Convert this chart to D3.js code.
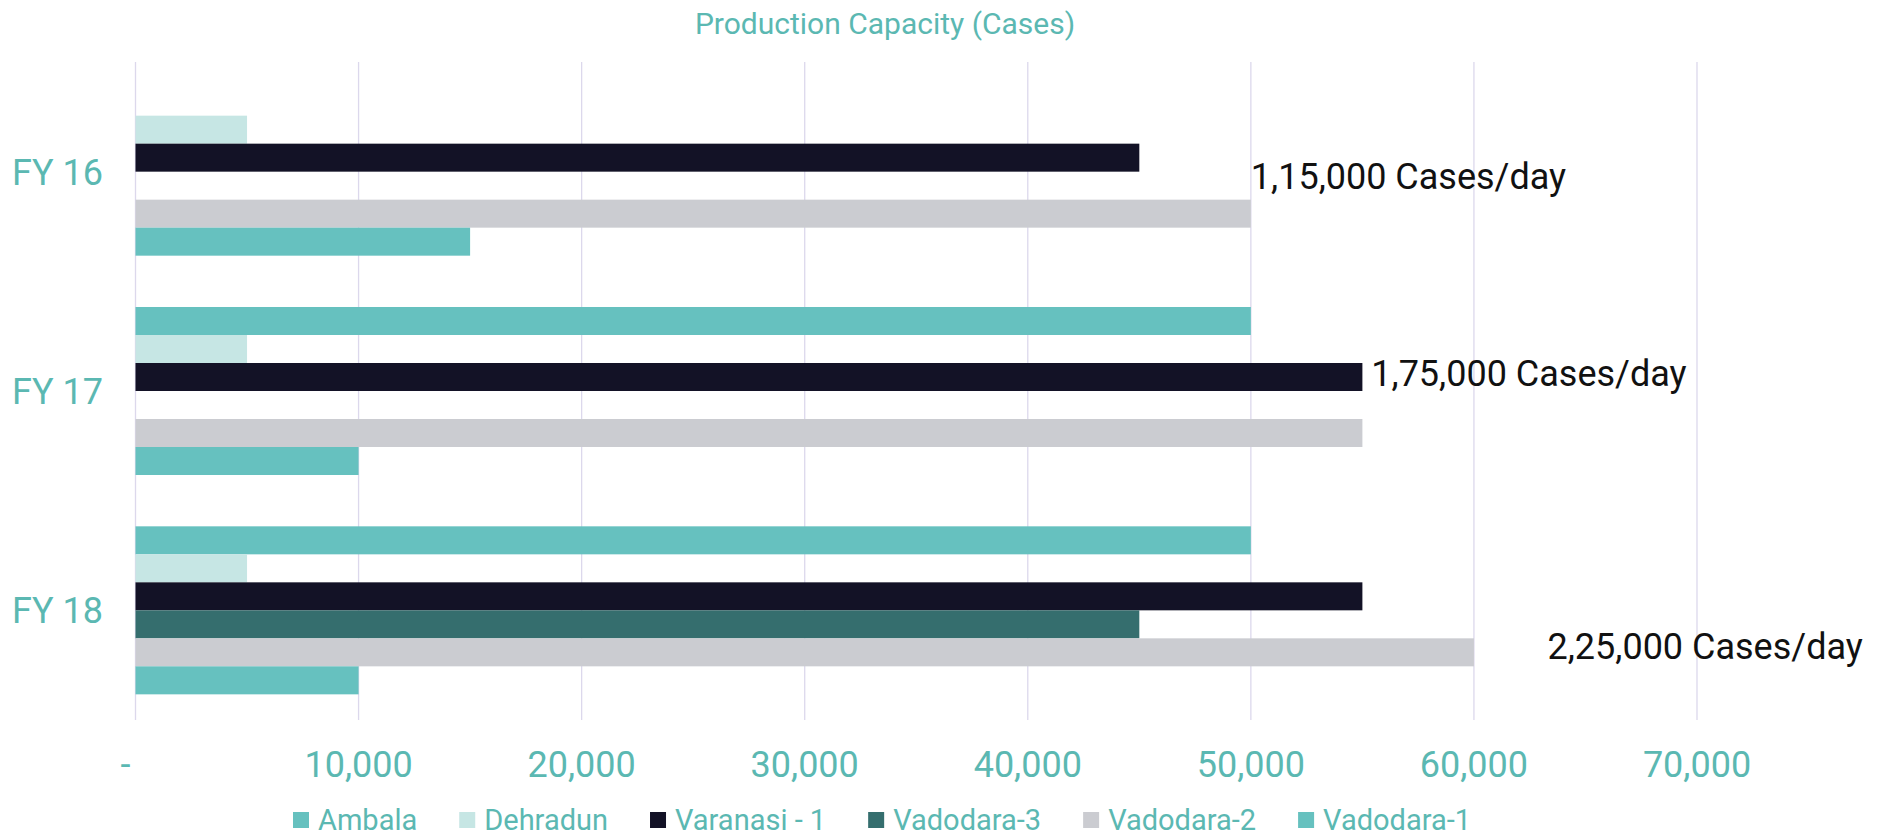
<!DOCTYPE html>
<html>
<head>
<meta charset="utf-8">
<script src="https://cdn.jsdelivr.net/npm/d3@7"></script>
<style>
  body { margin: 0; background: #fff; }
  text { font-family: Roboto, "Noto Sans", sans-serif; }
</style>
</head>
<body>
<svg id="chart" width="1881" height="837"></svg>
<script>
// data, top-to-bottom order within each year
const years = ["FY 16", "FY 17", "FY 18"];
const plants = ["Ambala", "Dehradun", "Varanasi - 1", "Vadodara-3", "Vadodara-2", "Vadodara-1"];
const ambala = [0, 50000, 50000];
const dehradun = [5000, 5000, 5000];
const varanasi1 = [45000, 55000, 55000];
const vadodara3 = [0, 0, 45000];
const vadodara2 = [50000, 55000, 60000];
const vadodara1 = [15000, 10000, 10000];
const totals = ["1,15,000 Cases/day", "1,75,000 Cases/day", "2,25,000 Cases/day"];
const tickValues = [0, 10000, 20000, 30000, 40000, 50000, 60000, 70000];

const seriesValues = [ambala, dehradun, varanasi1, vadodara3, vadodara2, vadodara1];
const colors = ["#66c1bf", "#c6e6e4", "#131226", "#356e6e", "#cbccd1", "#66c1bf"];

// where the total text boxes sit (x in data units, y in bar slots)
const noteX = [50000, 55400, 63300];
const noteSlot = [3.14, 2.36, 4.27];

const svg = d3.select("#chart");
const plotTop = 62, plotBottom = 720;

const x = d3.scaleLinear().domain([0, 70000]).range([135.5, 1697]);
const y = d3.scaleBand().domain(years).range([plotTop, plotBottom])
    .paddingInner(0.234).paddingOuter(0.117);
const y1 = d3.scaleBand().domain(plants).range([0, y.bandwidth()]);
const color = d3.scaleOrdinal().domain(plants).range(colors);

svg.append("text")
    .attr("x", 885).attr("y", 34)
    .attr("text-anchor", "middle")
    .attr("font-size", 30)
    .attr("fill", "#5bb8b2")
    .text("Production Capacity (Cases)");

// gridlines
svg.append("g").selectAll("line")
    .data(tickValues)
    .join("line")
    .attr("x1", d => x(d)).attr("x2", d => x(d))
    .attr("y1", plotTop).attr("y2", plotBottom)
    .attr("stroke", "#dcd8ec").attr("stroke-width", 1.3);

// bars
let rows = [];
years.forEach((yr, i) => {
    plants.forEach((p, j) => rows.push({year: yr, plant: p, value: seriesValues[j][i]}));
});

svg.append("g").selectAll("rect")
    .data(rows.filter(d => d.value > 0))
    .join("rect")
    .attr("x", x(0))
    .attr("y", d => y(d.year) + y1(d.plant))
    .attr("width", d => x(d.value) - x(0))
    .attr("height", y1.bandwidth())
    .attr("fill", d => color(d.plant));

// x tick labels
svg.append("g").selectAll("text")
    .data(tickValues)
    .join("text")
    .attr("x", d => d === 0 ? x(d) - 10 : x(d))
    .attr("y", 777)
    .attr("text-anchor", "middle")
    .attr("font-size", 36)
    .attr("fill", "#5bb8b2")
    .text(d => d === 0 ? "-" : d3.format(",")(d));

// year labels
svg.append("g").selectAll("text")
    .data(years)
    .join("text")
    .attr("x", 12)
    .attr("y", d => y(d) + y.bandwidth() / 2)
    .attr("dy", "0.36em")
    .attr("font-size", 36)
    .attr("fill", "#5bb8b2")
    .text(d => d);

// total notes
svg.append("g").selectAll("text")
    .data(years)
    .join("text")
    .attr("x", (d, i) => x(noteX[i]))
    .attr("y", (d, i) => y(d) + y1.step() * noteSlot[i])
    .attr("dy", "0.36em")
    .attr("font-size", 36)
    .attr("fill", "#111")
    .text((d, i) => totals[i]);

// legend
const legend = svg.append("g");
let lx = 293;
plants.forEach(p => {
    legend.append("rect")
        .attr("x", lx).attr("y", 812)
        .attr("width", 16).attr("height", 16)
        .attr("fill", color(p));
    let t = legend.append("text")
        .attr("x", lx + 25).attr("y", 830)
        .attr("font-size", 29)
        .attr("fill", "#5bb8b2")
        .text(p);
    lx += 25 + t.node().getComputedTextLength() + 42;
});
</script>
</body>
</html>
